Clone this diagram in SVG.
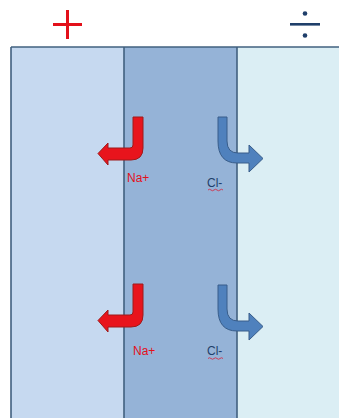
<svg xmlns="http://www.w3.org/2000/svg" width="339" height="418" viewBox="0 0 339 418">
  <defs>
    <style>
      .sign-plus { stroke: #e3101a; stroke-width: 3; fill: none; }
      .sign-div { fill: #1f3f6a; }
      .edge { stroke: #41607f; stroke-width: 1.6; fill: none; }
      .na-arrow { fill: #e8141c; stroke: #9e1a1a; stroke-width: 1; stroke-linejoin: round; }
      .cl-arrow { fill: #4f81bd; stroke: #385d8a; stroke-width: 1; stroke-linejoin: round; }
      .na-label { font-family: "Liberation Sans", Arial, sans-serif; font-size: 12px; fill: #e3101a; }
      .cl-label { font-family: "Liberation Sans", Arial, sans-serif; font-size: 12px; fill: #1f3f6a; }
      .squiggle { stroke: #d0304a; stroke-width: 0.9; fill: none; }
    </style>
    <!-- sodium ion: down then left -->
    <path id="na-shape" class="na-arrow" d="M133,117 L143,117 L143,148 Q143,160 131,160 L108,160 L108,165 L98,153.5 L108,143 L108,148 L130,148 Q133,148 133,145 Z"/>
    <!-- chloride ion: down then right -->
    <path id="cl-shape" class="cl-arrow" d="M218,117 L227,117 L227,141 Q227,153 238,153 L249,153 L249,145 L263,158.5 L249,172 L249,163 L237,163 Q218,163 218,141 Z"/>
  </defs>

  <rect width="339" height="418" fill="#ffffff"/>

  <!-- polarity signs -->
  <g id="plus">
    <line class="sign-plus" x1="53" y1="24.5" x2="82" y2="24.5"/>
    <line class="sign-plus" x1="67.5" y1="10" x2="67.5" y2="39"/>
  </g>
  <g id="divide">
    <rect class="sign-div" x="290" y="23" width="30" height="2.6"/>
    <circle class="sign-div" cx="305" cy="13.5" r="2.3"/>
    <circle class="sign-div" cx="305" cy="35.5" r="2.3"/>
  </g>

  <!-- compartments -->
  <g id="left-compartment">
    <rect x="11" y="47" width="113" height="380" fill="#c6d9f0"/>
  </g>
  <g id="membrane">
    <rect x="124" y="47" width="113" height="380" fill="#95b3d7"/>
  </g>
  <g id="right-compartment">
    <rect x="237" y="47" width="110" height="380" fill="#dbeef4"/>
  </g>
  <g id="borders">
    <line class="edge" x1="11" y1="47" x2="339" y2="47"/>
    <line class="edge" x1="11" y1="47" x2="11" y2="418"/>
    <line class="edge" x1="124" y1="47" x2="124" y2="418"/>
    <line class="edge" x1="237" y1="47" x2="237" y2="418"/>
  </g>

  <!-- ion flows -->
  <g id="connectors">
    <use href="#na-shape"/>
    <use href="#cl-shape"/>
    <use href="#na-shape" transform="translate(0,167)"/>
    <use href="#cl-shape" transform="translate(0,168)"/>
  </g>

  <g id="labels">
    <text class="na-label" x="127" y="182">Na+</text>
    <text class="cl-label" x="207" y="187">Cl-</text>
    <path class="squiggle" d="M208,190 q1.5,-1.5 3,0 t3,0 t3,0 t3,0 t3,0"/>
    <text class="na-label" x="133" y="355">Na+</text>
    <text class="cl-label" x="207" y="355">Cl-</text>
    <path class="squiggle" d="M208,358.5 q1.5,-1.5 3,0 t3,0 t3,0 t3,0 t3,0"/>
  </g>
</svg>
